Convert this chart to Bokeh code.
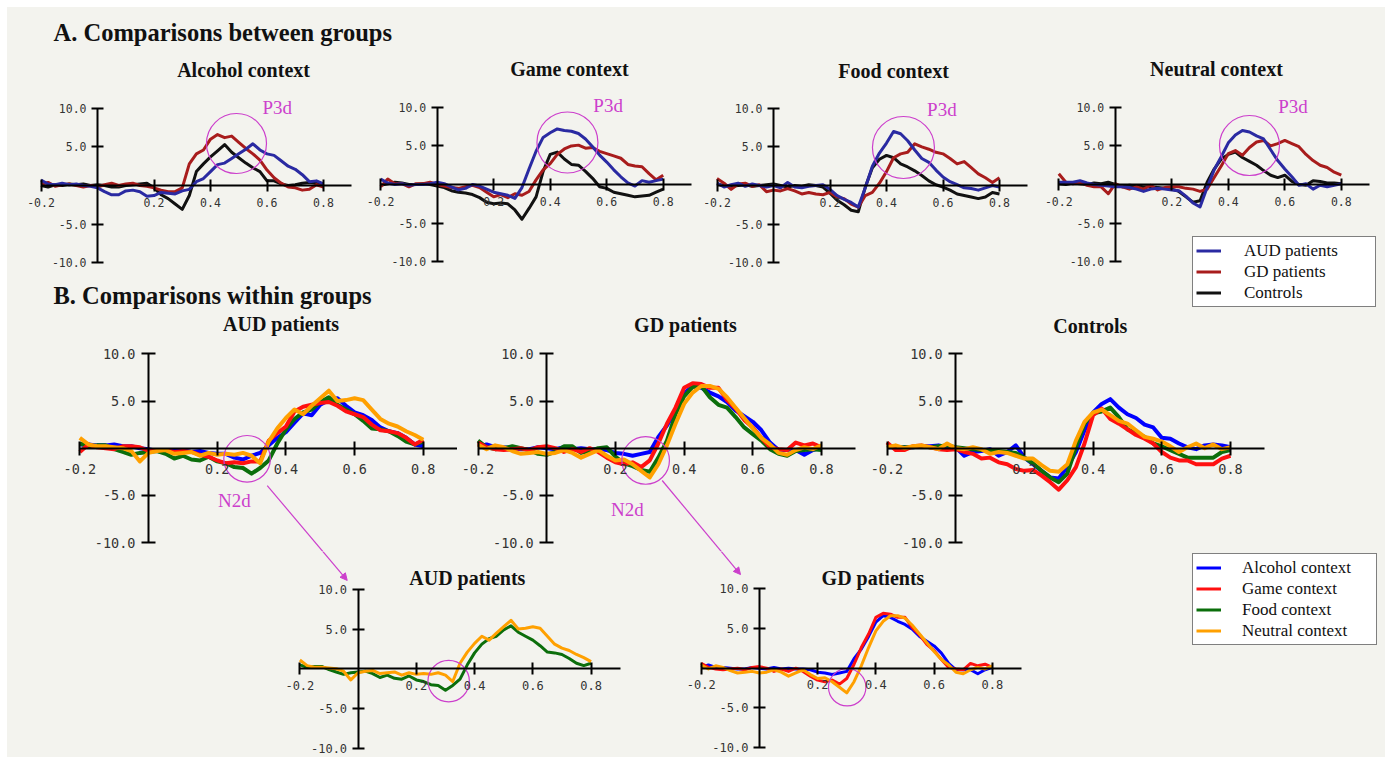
from bokeh.plotting import figure
from bokeh.layouts import row, column
from bokeh.models import (Range1d, LinearAxis, FixedTicker, PrintfTickFormatter, Label,
                          Arrow, NormalHead, Legend, LegendItem, Spacer)
from bokeh.embed import file_html
from bokeh.resources import INLINE

# ---------------- data (time in s, amplitude in microvolts) ----------------
t = [round(-0.2 + 0.025 * i, 3) for i in range(41)]

# A. comparisons between groups (AUD, GD, controls) per context
A_alcohol_aud = [0.7, 0.2, 0.1, 0.3, 0.1, 0.2, 0.0, -0.1, -0.3, -0.8, -1.2, -1.2, -0.7, -0.6, -0.8, -1.4, -1.3, -0.9, -1.0, -1.1, -0.7, -0.5, 0.5, 0.9, 1.8, 2.7, 2.9, 3.5, 4.1, 4.7, 5.4, 4.6, 4.1, 3.9, 3.2, 2.5, 2.1, 1.4, 0.5, 0.6, 0.2]
A_alcohol_gd = [0.2, 0.4, -0.1, 0.1, 0.2, 0.0, -0.2, 0.0, -0.2, 0.1, 0.3, 0.0, 0.2, 0.3, 0.0, -0.1, -0.3, -0.6, -0.8, -0.8, -0.3, 2.8, 4.1, 4.6, 6.0, 6.6, 6.2, 6.4, 5.6, 4.8, 4.1, 3.3, 2.0, 1.0, 0.3, -0.2, -0.3, -0.6, -0.5, 0.1, -0.2]
A_alcohol_hc = [0.0, -0.2, 0.1, 0.0, 0.2, 0.1, 0.2, 0.0, 0.1, 0.0, -0.2, -0.2, 0.0, 0.1, 0.2, 0.3, -0.3, -1.2, -1.7, -2.4, -3.1, -1.3, 1.8, 2.8, 3.7, 4.5, 5.3, 4.3, 3.6, 2.9, 2.3, 1.8, 0.6, 0.6, 0.2, 0.0, 0.1, 0.3, 0.4, 0.3, 0.2]

A_game_aud = [0.7, 0.2, 0.0, 0.1, -0.1, 0.0, 0.0, 0.1, 0.3, 0.1, -0.3, -0.7, -0.5, 0.0, -0.2, -0.6, -1.0, -1.2, -1.4, -1.8, -0.4, 2.0, 4.3, 6.1, 6.7, 7.2, 7.0, 6.9, 6.6, 5.9, 4.9, 3.8, 2.9, 1.9, 1.0, 0.2, -0.2, 0.5, 0.3, 0.5, 0.7]
A_game_gd = [-0.3, 0.7, 0.1, 0.1, -0.3, 0.1, 0.1, 0.3, 0.0, -0.2, -0.4, -0.5, -0.3, -0.1, -0.4, -1.0, -1.6, -1.3, -1.7, -1.2, -1.4, -0.9, 0.6, 1.9, 2.7, 3.9, 4.6, 5.0, 5.1, 4.7, 4.8, 4.3, 4.0, 3.7, 3.4, 2.6, 2.4, 2.3, 1.4, 0.6, 1.2]
A_game_hc = [-0.1, 0.1, 0.3, 0.2, 0.0, 0.0, 0.1, 0.0, -0.2, -0.4, -0.8, -1.0, -1.1, -1.3, -1.7, -2.3, -2.5, -2.4, -2.5, -3.3, -4.5, -3.1, -1.6, 1.7, 3.9, 4.2, 3.3, 2.6, 2.5, 1.7, 0.8, -0.3, -0.5, -1.0, -1.2, -1.4, -1.6, -1.5, -1.4, -1.0, -0.6]

A_food_aud = [0.3, -0.2, 0.1, 0.3, -0.1, 0.2, 0.0, -0.2, 0.0, -0.3, 0.4, -0.2, -0.3, -0.1, 0.0, 0.1, -0.5, -1.3, -1.8, -2.2, -2.8, -0.3, 2.5, 4.2, 5.5, 7.0, 6.7, 5.8, 4.6, 3.5, 3.0, 2.0, 1.1, 0.5, 0.1, -0.3, -0.4, -0.6, -0.3, 0.0, -0.2]
A_food_gd = [0.9, 0.3, -0.5, 0.2, 0.3, -0.1, 0.1, -0.8, -0.6, -0.7, -0.4, -0.7, -1.1, -0.9, -1.1, -1.2, -0.9, -1.5, -1.7, -2.4, -2.8, -1.3, -0.9, 0.3, 1.8, 3.6, 4.1, 4.3, 5.4, 5.0, 4.7, 4.3, 4.1, 3.5, 2.8, 3.1, 2.3, 1.5, 1.0, 0.4, 1.0]
A_food_hc = [0.2, 0.0, -0.1, 0.0, 0.1, -0.1, 0.0, 0.1, 0.2, 0.0, -0.2, 0.0, -0.1, 0.1, 0.0, -0.2, -1.0, -1.9, -2.5, -3.2, -3.4, -0.2, 2.3, 3.4, 3.9, 3.6, 2.8, 2.4, 1.9, 1.3, 0.6, 0.1, -0.2, -0.6, -1.1, -1.3, -1.5, -1.7, -1.5, -0.9, -1.1]

A_neutral_aud = [0.3, 0.3, 0.3, 0.5, 0.2, 0.0, -0.1, -0.2, -0.3, -0.3, -0.4, -0.6, -0.9, -0.6, -0.5, -0.6, -0.7, -0.8, -1.5, -2.4, -2.9, -0.4, 1.9, 3.6, 5.4, 6.4, 7.0, 6.8, 6.3, 5.9, 4.5, 3.1, 2.0, 1.0, -0.1, 0.1, -0.6, -0.1, -0.3, -0.1, 0.1]
A_neutral_gd = [1.4, 0.3, 0.1, 0.3, -0.1, -0.3, -0.3, -1.2, 0.1, -0.3, -0.6, -0.3, -0.6, -0.1, -0.7, -0.4, -0.3, -0.3, -0.5, -0.6, -0.9, -0.6, 0.9, 2.4, 4.0, 4.4, 3.8, 4.8, 5.5, 5.7, 5.0, 5.3, 5.7, 5.3, 4.9, 3.9, 3.1, 2.5, 2.2, 1.6, 1.2]
A_neutral_hc = [0.1, 0.0, 0.2, 0.1, 0.0, 0.2, 0.1, 0.3, 0.0, -0.3, -0.1, -0.2, -0.3, -0.3, -0.4, -0.5, -0.6, -0.9, -1.6, -2.3, -2.1, 0.3, 2.0, 3.3, 3.9, 4.2, 3.5, 3.0, 2.5, 1.8, 1.2, 0.9, 1.2, 0.4, 0.0, -0.1, 0.5, 0.4, 0.2, 0.2, 0.1]

# B. comparisons within groups (alcohol, game, food, neutral context)
B_aud_alcohol = [0.4, 0.4, 0.3, 0.3, 0.4, 0.2, 0.2, 0.0, -0.1, -0.3, -0.4, -0.2, -0.2, -0.4, -0.3, -0.5, -0.6, -0.6, -1.0, -1.2, -0.8, -0.5, 0.3, 1.1, 1.7, 2.7, 3.7, 3.5, 4.6, 5.1, 5.3, 4.5, 3.8, 3.5, 3.0, 2.2, 1.8, 1.6, 1.1, 0.4, 0.2]
B_aud_game = [-0.4, 0.4, 0.1, 0.0, -0.1, 0.2, 0.2, 0.1, -0.3, -0.2, -0.2, -0.4, -0.3, -0.4, -0.7, -0.9, -1.3, -1.6, -1.5, -1.6, -1.4, -1.4, 0.8, 1.6, 2.3, 3.9, 4.4, 4.6, 4.8, 4.9, 4.5, 3.9, 3.6, 3.3, 2.5, 1.9, 1.8, 1.6, 1.1, 0.4, 0.9]
B_aud_food = [0.5, 0.2, 0.3, 0.3, -0.1, -0.4, -0.7, -0.5, -0.4, -0.3, -0.6, -1.1, -0.8, -1.2, -1.3, -0.9, -1.4, -1.6, -2.0, -2.1, -2.7, -2.1, -1.3, 0.5, 2.0, 3.1, 3.8, 4.1, 4.9, 5.4, 4.6, 4.1, 3.6, 2.9, 2.1, 2.0, 1.8, 1.3, 0.7, 0.4, 0.7]
B_aud_neutral = [1.1, 0.4, 0.2, 0.2, 0.1, 0.0, -0.3, -1.4, -0.5, -0.3, -0.2, -0.6, -0.5, -0.4, -0.8, -0.5, -0.7, -0.6, -0.7, -0.5, -0.8, -1.6, 0.7, 2.1, 3.2, 4.1, 3.6, 4.5, 5.3, 6.1, 5.0, 5.1, 5.3, 5.1, 4.1, 3.1, 2.6, 2.3, 1.8, 1.4, 0.9]

B_gd_alcohol = [0.1, 0.4, 0.1, 0.1, 0.0, -0.1, -0.1, 0.1, 0.0, -0.1, 0.1, -0.1, 0.0, -0.1, -0.1, -0.2, -0.5, -0.6, -0.8, -0.6, -0.4, 1.2, 2.4, 4.0, 5.8, 6.6, 6.4, 5.9, 5.5, 4.9, 4.0, 3.4, 2.8, 1.9, 0.6, -0.2, -0.2, -0.2, -0.7, -0.2, 0.1]
B_gd_game = [0.6, 0.1, -0.1, -0.2, -0.1, 0.0, -0.2, 0.1, 0.2, 0.0, -0.4, -0.1, -0.4, 0.0, -0.4, -1.0, -1.5, -1.7, -1.5, -2.0, -1.3, 0.5, 2.6, 4.3, 6.4, 6.9, 6.8, 6.4, 6.4, 5.1, 4.2, 3.0, 2.2, 1.1, 0.1, -0.1, -0.2, 0.6, 0.3, 0.5, 0.1]
B_gd_food = [0.8, 0.1, -0.1, 0.0, 0.2, 0.0, -0.2, -0.6, -0.7, -0.4, 0.2, 0.2, -0.5, -0.3, 0.0, 0.1, -0.9, -1.6, -1.9, -2.3, -2.5, -1.0, 0.8, 3.6, 5.5, 6.5, 6.6, 5.4, 4.6, 4.3, 3.3, 2.2, 1.5, 0.8, -0.1, -0.6, -0.8, -0.3, -0.2, -0.1, -0.2]
B_gd_neutral = [0.4, -0.1, 0.3, 0.1, -0.3, -0.6, -0.5, -0.4, -0.6, -0.5, -0.2, -0.5, -1.0, -0.6, -0.2, -0.8, -1.3, -1.2, -1.7, -2.4, -3.1, -1.7, 0.3, 2.6, 4.7, 5.9, 6.6, 6.6, 6.3, 5.4, 4.3, 3.2, 2.1, 1.1, 0.4, -0.5, -0.7, -0.2, 0.1, -0.1, 0.3]

B_hc_alcohol = [0.1, 0.1, 0.1, 0.1, 0.2, 0.2, 0.3, 0.1, 0.1, -0.8, -0.4, -0.3, -0.1, -0.8, -0.4, 0.3, -1.0, -1.7, -2.4, -3.1, -3.2, -2.0, -0.4, 1.9, 3.8, 4.7, 5.2, 4.3, 3.6, 3.2, 2.5, 2.2, 1.1, 1.0, 0.5, 0.1, -0.1, 0.3, 0.4, 0.3, 0.1]
B_hc_game = [0.6, -0.2, -0.2, 0.2, 0.3, 0.1, -0.1, -0.2, -0.1, -0.4, -0.6, -1.1, -1.0, -1.5, -1.7, -2.2, -2.4, -2.3, -2.9, -3.6, -4.4, -3.4, -2.0, 0.5, 3.5, 4.2, 3.1, 2.6, 2.0, 1.4, 1.0, 0.5, -0.4, -1.0, -1.3, -1.3, -1.7, -1.7, -1.7, -1.1, -0.8]
B_hc_food = [0.3, 0.1, 0.1, 0.1, 0.2, 0.1, 0.2, 0.3, 0.1, 0.0, -0.1, -0.2, -0.2, -0.3, -0.4, -0.5, -1.0, -1.6, -2.4, -3.1, -3.6, -2.7, 0.1, 2.6, 3.7, 3.9, 4.3, 3.3, 2.0, 1.6, 1.2, 0.5, 0.2, -0.2, -0.6, -1.0, -1.0, -1.0, -1.0, -0.4, -0.2]
B_hc_neutral = [0.1, 0.3, 0.0, 0.2, 0.3, 0.1, -0.1, 0.5, 0.0, -0.1, 0.1, -0.1, -0.6, -0.4, -0.5, -0.8, -1.1, -1.1, -1.8, -2.4, -2.5, -1.7, 0.8, 2.8, 3.8, 4.1, 3.5, 2.9, 2.6, 1.9, 1.2, 1.0, 0.7, 0.2, -0.4, 0.1, 0.5, 0.0, 0.4, -0.1, 0.1]

x_ticks = [-0.2, 0.2, 0.4, 0.6, 0.8]
y_ticks = [-10, -5, 5, 10]
group_labels = ["AUD patients", "GD patients", "Controls"]
context_labels = ["Alcohol context", "Game context", "Food context", "Neutral context"]

# ---------------- styling ----------------
BG = "#f3f3ee"
MAG = "#cc3fcc"
A_COL = {"aud": "#2a2aa2", "gd": "#a81c1c", "hc": "#111111"}
B_COL = {"alcohol": "#0000ff", "game": "#ff1010", "food": "#0b6e0b", "neutral": "#ffa000"}
SERIF = "Liberation Serif"
MONO = "DejaVu Sans Mono"
OX, OY = 7, 7   # white page margin

# panel geometry: figure box (page px) and where data 0/0 sits, px per unit
GEOM = {
    "A1": dict(L=7, R=360, T=50, B=280, x0=97.0, kx=282.5, y0=185.0, ky=7.72),
    "A2": dict(L=360, R=700, T=50, B=280, x0=436.7, kx=282.5, y0=184.0, ky=7.72),
    "A3": dict(L=700, R=1040, T=50, B=280, x0=773.0, kx=282.5, y0=185.0, ky=7.72),
    "A4": dict(L=1040, R=1385, T=7, B=311, x0=1114.8, kx=282.5, y0=184.0, ky=7.72),
    "B1": dict(L=7, R=457, T=311, B=551, x0=148.0, kx=343.5, y0=447.7, ky=9.43),
    "B2": dict(L=457, R=863, T=311, B=551, x0=546.2, kx=343.5, y0=447.7, ky=9.43),
    "B3": dict(L=863, R=1385, T=311, B=551, x0=955.2, kx=343.5, y0=447.7, ky=9.43),
    "C1": dict(L=7, R=650, T=551, B=757, x0=357.6, kx=291.2, y0=668.3, ky=7.95),
    "C2": dict(L=650, R=1385, T=551, B=757, x0=758.9, kx=291.2, y0=667.7, ky=7.95),
}
STYLE = {
    "A": dict(fs="11.5px", tick=6, sx=6, sy=5, lw=3),
    "B": dict(fs="13.5px", tick=7, sx=9, sy=6, lw=4),
    "C": dict(fs="12px", tick=6, sx=6, sy=5, lw=3),
}


def to_px(g, x, y):
    return g["x0"] + g["kx"] * x, g["y0"] - g["ky"] * y


def to_data(g, sx, sy):
    return (sx - g["x0"]) / g["kx"], (g["y0"] - sy) / g["ky"]


def panel(key, style):
    g = GEOM[key]
    s = STYLE[style]
    p = figure(width=g["R"] - g["L"], height=g["B"] - g["T"],
               x_range=Range1d((g["L"] - g["x0"]) / g["kx"], (g["R"] - g["x0"]) / g["kx"]),
               y_range=Range1d((g["y0"] - g["B"]) / g["ky"], (g["y0"] - g["T"]) / g["ky"]),
               toolbar_location=None, output_backend="svg", min_border=0,
               x_axis_type=None, y_axis_type=None, title_location=None,
               background_fill_color=BG, border_fill_color=BG, outline_line_color=None)
    common = dict(fixed_location=0, axis_line_width=2, axis_line_color="black",
                  major_tick_line_width=2, major_tick_line_color="black",
                  major_tick_in=s["tick"], major_tick_out=s["tick"],
                  minor_tick_line_color=None,
                  major_label_text_font=MONO, major_label_text_font_size=s["fs"],
                  major_label_text_color="#333333",
                  formatter=PrintfTickFormatter(format="%.1f"))
    xa = LinearAxis(bounds=(-0.2, 0.9), ticker=FixedTicker(ticks=x_ticks),
                    major_label_standoff=s["sx"], **common)
    ya = LinearAxis(bounds=(-10, 10), ticker=FixedTicker(ticks=y_ticks),
                    major_label_standoff=s["sy"], **common)
    p.add_layout(xa, "below")
    p.add_layout(ya, "left")
    return p


def title(p, x, y, text):
    p.add_layout(Label(x=x, y=y, text=text, text_align="center", text_baseline="middle",
                       text_font=SERIF, text_font_style="bold", text_font_size="20px",
                       text_color="#111111"))


def mark(p, x, y, r, lx=None, ly=None, text=None):
    p.circle(x=[x], y=[y], radius=r, radius_units="screen", fill_color=None,
             line_color=MAG, line_width=1.2)
    if text:
        p.add_layout(Label(x=lx, y=ly, text=text, text_align="center", text_baseline="middle",
                           text_font=SERIF, text_font_size="19px", text_color=MAG))


def header(width, height, x, y, text):
    p = figure(width=width, height=height, x_range=Range1d(0, width), y_range=Range1d(height, 0),
               toolbar_location=None, output_backend="svg", min_border=0,
               x_axis_type=None, y_axis_type=None, title_location=None,
               background_fill_color=BG, border_fill_color=BG, outline_line_color=None)
    p.add_layout(Label(x=x, y=y, text=text, text_align="left", text_baseline="middle",
                       text_font=SERIF, text_font_style="bold", text_font_size="24.5px",
                       text_color="#111111"))
    return p


def legend(items, loc, label_width, standoff):
    return Legend(items=items, location=loc, margin=0, padding=3, spacing=0,
                  glyph_width=25, glyph_height=21, label_height=21, label_width=label_width,
                  label_standoff=standoff, label_text_font=SERIF, label_text_font_size="17px",
                  label_text_color="#111111", background_fill_color="white",
                  background_fill_alpha=1.0, border_line_color="black", border_line_width=1)


# ---------------- row A ----------------
A_sets = [
    ("A1", A_alcohol_aud, A_alcohol_gd, A_alcohol_hc, (0.517, 14.9), (0.492, 5.44, 30), (0.636, 10.1)),
    ("A2", A_game_aud, A_game_gd, A_game_hc, (0.468, 14.9), (0.461, 5.44, 30.5), (0.605, 10.2)),
    ("A3", A_food_aud, A_food_gd, A_food_hc, (0.425, 14.8), (0.46, 4.92, 31), (0.596, 9.84)),
    ("A4", A_neutral_aud, A_neutral_gd, A_neutral_hc, (0.358, 14.9), (0.475, 5.05, 30), (0.629, 10.16)),
]
A_figs = {}
for i, (key, aud, gd, hc, tpos, circ, lab) in enumerate(A_sets):
    p = panel(key, "A")
    lw = STYLE["A"]["lw"]
    r_hc = p.line(t, hc, line_color=A_COL["hc"], line_width=lw, line_join="round")
    r_gd = p.line(t, gd, line_color=A_COL["gd"], line_width=lw, line_join="round")
    r_aud = p.line(t, aud, line_color=A_COL["aud"], line_width=lw, line_join="round")
    title(p, tpos[0], tpos[1], context_labels[i])
    mark(p, circ[0], circ[1], circ[2], lab[0], lab[1], "P3d")
    if key == "A4":
        legA = legend([LegendItem(label=group_labels[0], renderers=[r_aud]),
                       LegendItem(label=group_labels[1], renderers=[r_gd]),
                       LegendItem(label=group_labels[2], renderers=[r_hc])],
                      (152, 4), 128, 23)
        p.add_layout(legA, "center")
    A_figs[key] = p

hdrA = header(1033, 43, 46, 25, "A. Comparisons between groups")
hdrB = header(1033, 31, 46, 15, "B. Comparisons within groups")

# ---------------- row B ----------------
B_sets = [
    ("B1", [B_aud_alcohol, B_aud_food, B_aud_game, B_aud_neutral], (0.386, 13.2), (0.287, -1.12, 23.3), (0.25, -5.55)),
    ("B2", [B_gd_alcohol, B_gd_food, B_gd_game, B_gd_neutral], (0.404, 13.1), (0.288, -1.3, 23.8), (0.235, -6.5)),
    ("B3", [B_hc_alcohol, B_hc_food, B_hc_game, B_hc_neutral], (0.392, 13.0), None, None),
]
B_order = ["alcohol", "food", "game", "neutral"]
B_figs = {}
for i, (key, series, tpos, circ, lab) in enumerate(B_sets):
    p = panel(key, "B")
    for name, vals in zip(B_order, series):
        p.line(t, vals, line_color=B_COL[name], line_width=STYLE["B"]["lw"], line_join="round")
    title(p, tpos[0], tpos[1], group_labels[i])
    if circ:
        mark(p, circ[0], circ[1], circ[2], lab[0], lab[1], "N2d")
    B_figs[key] = p

# ---------------- row C (zoomed N2d) ----------------
C1 = panel("C1", "C")
C1.line(t, B_aud_food, line_color=B_COL["food"], line_width=3, line_join="round")
C1.line(t, B_aud_neutral, line_color=B_COL["neutral"], line_width=3, line_join="round")
title(C1, 0.375, 11.36, group_labels[0])
mark(C1, 0.311, -1.55, 20.7)

C2 = panel("C2", "C")
c_alc = C2.line(t, B_gd_alcohol, line_color=B_COL["alcohol"], line_width=3, line_join="round")
c_game = C2.line(t, B_gd_game, line_color=B_COL["game"], line_width=3, line_join="round")
nan = float("nan")
c_food = C2.line([nan, nan], [nan, nan], line_color=B_COL["food"], line_width=3)  # legend entry only
c_neu = C2.line(t, B_gd_neutral, line_color=B_COL["neutral"], line_width=3, line_join="round")
title(C2, 0.39, 11.29, group_labels[1])
mark(C2, 0.3015, -2.4, 18.7)
legB = legend([LegendItem(label=context_labels[0], renderers=[c_alc]),
               LegendItem(label=context_labels[1], renderers=[c_game]),
               LegendItem(label=context_labels[2], renderers=[c_food]),
               LegendItem(label=context_labels[3], renderers=[c_neu])],
              (542, 112), 131, 21)
C2.add_layout(legB, "center")

# arrows from the N2d circles (row B) to the zoomed panels (row C)
arrows = [
    ("B1", (0.3456, -3.96), "C1", (-0.0374, 11.12)),
    ("B2", (0.3362, -3.425), "C2", (-0.0649, 11.78)),
]
figs = {**B_figs, "C1": C1, "C2": C2}
for src, start, dst, end in arrows:
    gs, gd_ = GEOM[src], GEOM[dst]
    end_in_src = to_data(gs, *to_px(gd_, *end))
    start_in_dst = to_data(gd_, *to_px(gs, *start))
    figs[src].add_layout(Arrow(end=None, x_start=start[0], y_start=start[1],
                               x_end=end_in_src[0], y_end=end_in_src[1],
                               line_color=MAG, line_width=1.2))
    figs[dst].add_layout(Arrow(end=NormalHead(size=7, fill_color=MAG, line_color=MAG, line_width=1),
                               x_start=start_in_dst[0], y_start=start_in_dst[1],
                               x_end=end[0], y_end=end[1], line_color=MAG, line_width=1.2))

content = column(
    row(column(hdrA, row(A_figs["A1"], A_figs["A2"], A_figs["A3"]), hdrB), A_figs["A4"]),
    row(B_figs["B1"], B_figs["B2"], B_figs["B3"]),
    row(C1, C2),
    styles={"background-color": BG},
)
layout = column(Spacer(width=10, height=OY), row(Spacer(width=OX, height=10), content))

open("out.html", "w").write(file_html(layout, INLINE))
